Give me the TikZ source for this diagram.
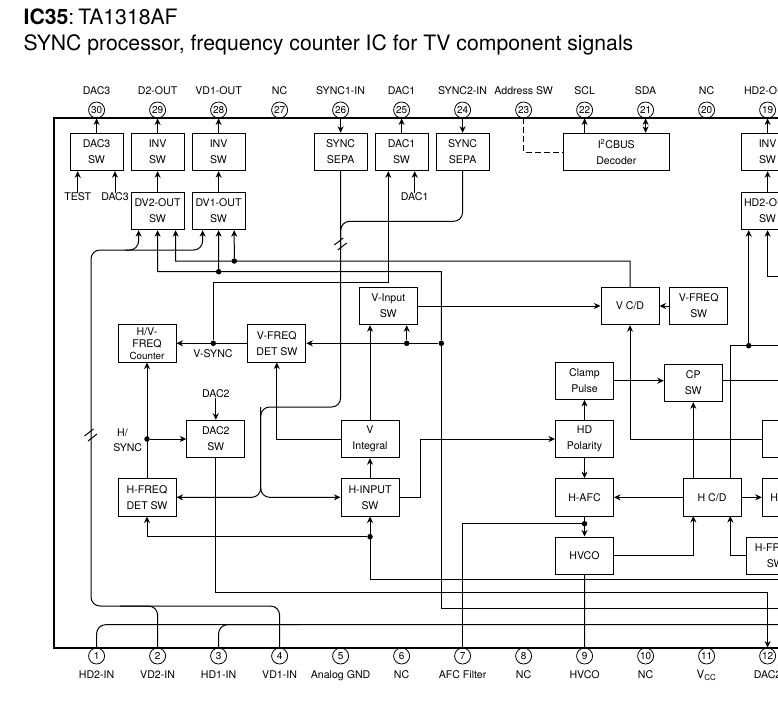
\documentclass[tikz,border=0pt]{standalone}
\usepackage{fontspec}
\setmainfont{TeX Gyre Heros}
\usepackage{tikz}
\usetikzlibrary{arrows.meta, positioning, calc}

\begin{document}
\begin{tikzpicture}[
    x=1pt, y=-1pt, on grid,
    base/.style={font=\fontsize{10.6}{16}\selectfont},
    box/.style={base, rectangle, draw, line width=1pt, align=center, inner sep=0pt, minimum width=58pt, minimum height=37.4pt},
    sbox/.style={box, minimum width=53pt},
    pinc/.style={circle, draw, line width=0.8pt, inner sep=0pt, minimum size=16pt, font=\fontsize{10}{10}\selectfont},
    txt/.style={base, inner sep=0pt, text height=7.5pt, text depth=0pt},
    titletxt/.style={anchor=base west, inner sep=0pt, font=\fontsize{21.2}{24}\selectfont},
    dot/.style={circle, fill, inner sep=0pt, minimum size=5.5pt},
    wire/.style={line width=1pt},
    arrow/.style={wire, -{Stealth[length=6.5pt, width=6pt, inset=2pt]}},
    twoway/.style={wire, {Stealth[length=6.5pt, width=6pt, inset=2pt]}-{Stealth[length=6.5pt, width=6pt, inset=2pt]}},
    curved/.style={rounded corners=9pt}
]
\useasboundingbox (0,0) rectangle (778,702);
\clip (0,0) rectangle (778,702);
% heading
\node[titletxt] (head) at (23.5,24) {\textbf{IC35}:\kern 4pt TA1318AF};
\node[titletxt] (title) at (23.5,50) {SYNC processor, frequency counter IC for TV component signals};
\draw[line width=2pt] (54,118) rectangle (810,648);
% top pins
\node[pinc] (p30) at (96.6,110) {30};
\node[pinc, right=61pt of p30] (p29) {29};
\node[pinc, right=61pt of p29] (p28) {28};
\node[pinc, right=61pt of p28] (p27) {27};
\node[pinc, right=61pt of p27] (p26) {26};
\node[pinc, right=61pt of p26] (p25) {25};
\node[pinc, right=61pt of p25] (p24) {24};
\node[pinc, right=61pt of p24] (p23) {23};
\node[pinc, right=61pt of p23] (p22) {22};
\node[pinc, right=61pt of p22] (p21) {21};
\node[pinc, right=61pt of p21] (p20) {20};
\node[pinc, right=61pt of p20] (p19) {19};
\node[txt, above=19pt of p30] (l30) {DAC3};
\node[txt, above=19pt of p29] (l29) {D2-OUT};
\node[txt, above=19pt of p28] (l28) {VD1-OUT};
\node[txt, above=19pt of p27] (l27) {NC};
\node[txt, above=19pt of p26] (l26) {SYNC1-IN};
\node[txt, above=19pt of p25] (l25) {DAC1};
\node[txt, above=19pt of p24] (l24) {SYNC2-IN};
\node[txt, above=19pt of p23] (l23) {Address SW};
\node[txt, above=19pt of p22] (l22) {SCL};
\node[txt, above=19pt of p21] (l21) {SDA};
\node[txt, above=19pt of p20] (l20) {NC};
\node[txt, above=19pt of p19] (l19) {HD2-OUT};
% bottom pins
\node[pinc] (p1) at (96.6,656) {1};
\node[pinc, right=61pt of p1] (p2) {2};
\node[pinc, right=61pt of p2] (p3) {3};
\node[pinc, right=61pt of p3] (p4) {4};
\node[pinc, right=61pt of p4] (p5) {5};
\node[pinc, right=61pt of p5] (p6) {6};
\node[pinc, right=61pt of p6] (p7) {7};
\node[pinc, right=61pt of p7] (p8) {8};
\node[pinc, right=61pt of p8] (p9) {9};
\node[pinc, right=61pt of p9] (p10) {10};
\node[pinc, right=61pt of p10] (p11) {11};
\node[pinc, right=61pt of p11] (p12) {12};
\node[txt, below=19pt of p1] (l1) {HD2-IN};
\node[txt, below=19pt of p2] (l2) {VD2-IN};
\node[txt, below=19pt of p3] (l3) {HD1-IN};
\node[txt, below=19pt of p4] (l4) {VD1-IN};
\node[txt, below=19pt of p5] (l5) {Analog GND};
\node[txt, below=19pt of p6] (l6) {NC};
\node[txt, below=19pt of p7] (l7) {AFC Filter};
\node[txt, below=19pt of p8] (l8) {NC};
\node[txt, below=19pt of p9] (l9) {HVCO};
\node[txt, below=19pt of p10] (l10) {NC};
\node[txt, below=19pt of p11, font=\fontsize{11.5}{16}\selectfont] (l11) {V\textsubscript{CC}};
\node[txt, below=19pt of p12] (l12) {DAC2};
% blocks
\node[sbox, below=42pt of p30] (dac3sw) {DAC3\\SW};
\node[sbox, below=42pt of p29] (inv2sw) {INV\\SW};
\node[sbox, below=42pt of p28] (inv1sw) {INV\\SW};
\node[sbox, below=42pt of p26] (sepa1) {SYNC\\SEPA};
\node[sbox, below=42pt of p25] (dac1sw) {DAC1\\SW};
\node[sbox, below=42pt of p24] (sepa2) {SYNC\\SEPA};
\node[sbox, below=42pt of p19] (inv3sw) {INV\\SW};
\node[box, minimum width=106pt] (i2c) at (616.3,152) {I\textsuperscript{2}CBUS\\Decoder};
\node[sbox, below=59pt of inv2sw] (dv2sw) {DV2-OUT\\SW};
\node[sbox, below=59pt of inv1sw] (dv1sw) {DV1-OUT\\SW};
\node[sbox, below=59pt of inv3sw] (hd2sw) {HD2-OUT\\SW};
\node[box] (vinput) at (388.3,306) {V-Input\\SW};
\node[box] (vcd) at (630,306) {V C/D};
\node[box, right=68.7pt of vcd] (vfreq) {V-FREQ\\SW};
\node[box, font=\fontsize{10.6}{12}\selectfont] (counter) at (147,343.3) {H/V-\\FREQ\\{\fontsize{9.8}{12}\selectfont Counter}};
\node[box, right=129.8pt of counter] (vdet) {V-FREQ\\DET SW};
\node[box, below=154pt of counter] (hfreq) {H-FREQ\\DET SW};
\node[box, right=223pt of hfreq] (hinput) {H-INPUT\\SW};
\node[box, above=58.3pt of hinput] (vint) {V\\Integral};
\node[box] (dac2sw) at (215.8,439) {DAC2\\SW};
\node[box] (hdpol) at (584.5,439) {HD\\Polarity};
\node[box, above=58.3pt of hdpol] (clamp) {Clamp\\Pulse};
\node[box, below=58.3pt of hdpol] (hafc) {H-AFC};
\node[box, below=58.4pt of hafc] (hvco) {HVCO};
\node[box] (cpsw) at (693.3,383) {CP\\SW};
\node[box, right=127.5pt of hafc] (hcd) {H C/D};
\node[box, right=79.3pt of hcd, align=left, text width=42pt, inner xsep=8pt] (hout) {H};
\node[box, above=58.3pt of hout] (vout) {};
\node[box] (hffr) at (775.3,555.7) {H-FREQ\\SW};
% free labels
\node[txt] (test) at (77.7,197) {TEST};
\node[txt] (dac3in) at (115,197) {DAC3};
\node[txt] (dac1in) at (414.7,197) {DAC1};
\node[txt] (dac2in) at (215.8,394) {DAC2};
\node[txt] (vsync) at (213,354) {V-SYNC};
\node[base, align=center, inner sep=0pt, font=\fontsize{10.6}{15}\selectfont] (hsync) at (127.7,440.5) {H/\kern 1em\\SYNC};
% junctions
\node[dot] (dotc) at (234.3,261) {};
\node[dot] (dotm) at (218.7,271.7) {};
\node[dot] (dots) at (213.3,343.3) {};
\node[dot] (dotv) at (406.7,343.3) {};
\node[dot] (dotw) at (441.3,343.3) {};
\node[dot] (doth) at (147,439) {};
\node[dot] (doti) at (370,536.7) {};
\node[dot] (dota) at (584.5,523.7) {};
\node[dot] (dotr) at (748.7,345.7) {};
% free ends and bends
\coordinate (d2a) at ([xshift=-19pt]dv2sw.south);
\coordinate (d2c) at ([xshift=18pt]dv2sw.south);
\coordinate (d1a) at ([xshift=-16pt]dv1sw.south);
\coordinate (d1c) at ([xshift=15.6pt]dv1sw.south);
\coordinate (dac1c) at ([xshift=-13.3pt]dac1sw.south);
\coordinate (cl) at (91,606);
\coordinate (cu) at (91,250);
\coordinate (cb) at (125,250);
\coordinate (cm) at (120,606);
\coordinate (cj) at (300,624.7);
\coordinate (js) at (260.7,407);
\coordinate (jm) at (260.7,497.3);
\coordinate (jt) at (340.7,221.3);
\coordinate (jb) at (340.7,250);
\coordinate (m1) at (91,436);
\coordinate (m2) at (340.7,245);
\coordinate (cleft) at (175.7,261);
\coordinate (dleft) at (157.7,271.7);
\coordinate (ec) at (388.3,282);
\coordinate (c12) at (767.6,592.7);
\coordinate (b1) at (420,439);
\coordinate (hn) at (730.3,478.7);
\coordinate (hs) at (730.3,516);
\coordinate (hl) at (693.3,516);
\coordinate (e1) at (790,624.7);
\coordinate (e2) at (790,608.3);
\coordinate (e4) at (790,579.3);
\coordinate (e5) at (790,380.7);
\coordinate (e6) at (790,345.7);
\coordinate (e7) at (790,276.7);
% top side
\draw[arrow] (dac3sw) -- (p30);
\draw[arrow] (inv2sw) -- (p29);
\draw[arrow] (inv1sw) -- (p28);
\draw[arrow] (dac1sw) -- (p25);
\draw[arrow] (inv3sw) -- (p19);
\draw[arrow] (p26) -- (sepa1);
\draw[arrow] (p24) -- (sepa2);
\draw[arrow] (i2c.north -| p22) -- (p22);
\draw[twoway] (i2c.north -| p21) -- (p21);
\draw[wire, dash pattern=on 6pt off 3pt] (p23) |- (i2c);
\draw[arrow] (test) -- (test |- dac3sw.south);
\draw[arrow] (dac3in) -- (dac3in |- dac3sw.south);
\draw[arrow] (dac1in) -- (dac1in |- dac1sw.south);
\draw[arrow] (dv2sw) -- (inv2sw);
\draw[arrow] (dv1sw) -- (inv1sw);
\draw[arrow] (hd2sw) -- (inv3sw);
\draw[arrow] (vcd) |- (cleft) -- (d2c);
\draw[arrow] (dotc) -- (d1c);
\draw[arrow] (dotw) |- (dleft) -- (dv2sw);
\draw[arrow] (dotm) -- (dv1sw);
\draw[wire] (dotw) |- (e2);
\draw[arrow] (dots) |- (ec) -- (dac1c);
\draw[arrow] (dotr) -- (dotr |- hd2sw.south);
\draw[arrow] (e7) -| (hd2sw);
% the two bent input lines
\draw[arrow, curved] (p4) |- (cl) -- (cu) -| (d2a);
\draw[arrow, curved] (cb) -| (d1a);
\draw[wire, curved] (p2) |- (cm);
\draw[wire, curved] (p1) |- (e1);
\draw[wire, curved] (p3) |- (cj);
\draw[wire] (m1) ++(-6.5,0) -- ++(9,-7);
\draw[wire] (m1) ++(-3,5) -- ++(9,-7);
% sync lines
\draw[arrow, curved] (sepa1) -- (sepa1 |- js) -- (js) -- (jm) -- (hfreq);
\draw[arrow, curved] (js) -- (jm) -- (hinput);
\draw[wire, curved] (sepa2) |- (jt) -- (jb);
\draw[wire] (m2) ++(-6.5,0) -- ++(9,-7);
\draw[wire] (m2) ++(-3,5) -- ++(9,-7);
% left half
\draw[arrow] (vdet) -- (counter);
\draw[arrow] (dotw) -- (vdet);
\draw[arrow] (dotv) -- (dotv |- vinput.south);
\draw[arrow] (vinput) -- (vcd);
\draw[arrow] (vfreq) -- (vcd);
\draw[arrow] (hfreq) -- (counter);
\draw[arrow] (doth) -- (dac2sw);
\draw[arrow] (dac2in) -- (dac2sw);
\draw[arrow] (dac2sw) |- (c12) -- (p12);
\draw[arrow] (vint) -| (vdet);
\draw[arrow] (vint) -- (vint |- vinput.south);
\draw[arrow] (hinput) -- (vint);
\draw[arrow] (hinput) -| (b1) -- (hdpol);
\draw[arrow] (e4) -| (hinput);
\draw[arrow] (doti) -| (hfreq);
% right half
\draw[arrow] (hdpol) -- (clamp);
\draw[arrow] (hdpol) -- (hafc);
\draw[arrow] (hafc) -- (hvco);
\draw[wire] (dota) -| (p7);
\draw[wire] (hvco) -- (p9);
\draw[arrow] (hvco) -| (hl);
\draw[arrow] (hcd) -- (hafc);
\draw[arrow] (cpsw |- hcd.north) -- (cpsw);
\draw[arrow] (clamp.east) -- (clamp -| cpsw.west);
\draw[wire] (clamp -| cpsw.east) -- (e5);
\draw[wire] (hn) |- (e6);
\draw[arrow] (hcd) -- (hout);
\draw[arrow] (hffr) -| (hs);
\draw[arrow] (vout) -| (vcd);
\end{tikzpicture}
\end{document}
